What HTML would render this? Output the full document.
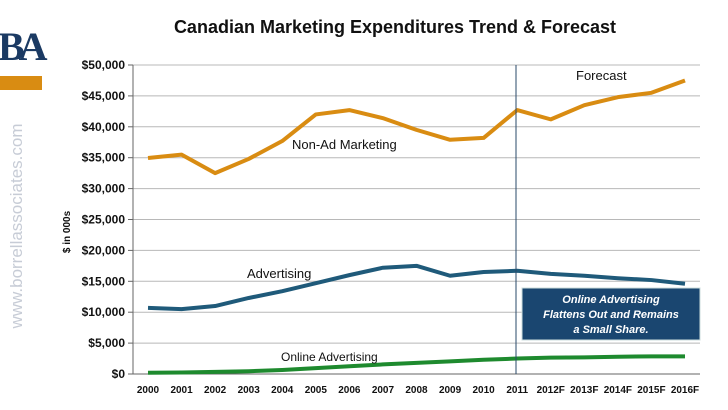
<!DOCTYPE html>
<html><head><meta charset="utf-8"><style>
body{margin:0;width:728px;height:410px;background:#fff;overflow:hidden;font-family:"Liberation Sans",sans-serif}
svg{position:absolute;left:0;top:0}
</style></head><body>
<svg width="728" height="410">
<text x="395" y="33" text-anchor="middle" font-size="18" font-weight="bold" fill="#111">Canadian Marketing Expenditures Trend &amp; Forecast</text>
<g>
<text x="-2" y="60" font-size="40" font-weight="bold" fill="#1b3a63" font-family="Liberation Serif,serif" letter-spacing="-6">BA</text>
<rect x="0" y="76" width="42" height="14" fill="#d98c12"/>
</g>
<text transform="translate(22,226) rotate(-90)" text-anchor="middle" font-size="17" fill="#c7ccd6">www.borrellassociates.com</text>
<text transform="translate(70,232) rotate(-90)" text-anchor="middle" font-size="10" font-weight="bold" fill="#111">$ in 000s</text>
<g id="grid"></g><g id="axes"></g><g id="series"></g>
<line x1="516" y1="65" x2="516" y2="374" stroke="#2a4a6a" stroke-width="1"/>
<text x="576" y="80" font-size="13" fill="#111">Forecast</text>
<text x="292" y="149" font-size="13" fill="#111">Non-Ad Marketing</text>
<text x="247" y="278" font-size="13" fill="#111">Advertising</text>
<text x="281" y="361" font-size="12" fill="#111">Online Advertising</text>
<g>
<rect x="522" y="288" width="178" height="52" fill="#1a4670" stroke="#cdd" stroke-width="1"/>
<text x="611" y="303" text-anchor="middle" font-size="11" font-style="italic" font-weight="bold" fill="#fff">Online Advertising</text>
<text x="611" y="318" text-anchor="middle" font-size="11" font-style="italic" font-weight="bold" fill="#fff">Flattens Out and Remains</text>
<text x="611" y="333" text-anchor="middle" font-size="11" font-style="italic" font-weight="bold" fill="#fff">a Small Share.</text>
</g>
</svg>
<script>
const categories=["2000","2001","2002","2003","2004","2005","2006","2007","2008","2009","2010","2011","2012F","2013F","2014F","2015F","2016F"];
const nonAd=[34950,35500,32500,34800,37700,42000,42700,41400,39500,37900,38200,42700,41200,43500,44800,45500,47500];
const advertising=[10700,10500,11000,12300,13400,14700,16000,17200,17500,15900,16500,16700,16200,15900,15500,15200,14600];
const online=[200,250,350,450,650,950,1250,1550,1800,2050,2300,2500,2650,2700,2800,2850,2850];
const yTicks=[0,5000,10000,15000,20000,25000,30000,35000,40000,45000,50000];
const NS="http://www.w3.org/2000/svg";
const x0=133,x1=700,y0=374,y1=65;
const xs=i=>148+i*(685-148)/16;
const ys=v=>y0-(v/50000)*(y0-y1);
function mk(t,a,p){const e=document.createElementNS(NS,t);for(const k in a)e.setAttribute(k,a[k]);p.appendChild(e);return e;}
const grid=document.getElementById('grid'),axes=document.getElementById('axes'),ser=document.getElementById('series');
yTicks.forEach(v=>{
 const g=mk('line',{x1:x0,x2:x1,y1:ys(v),y2:ys(v),stroke:v?'#b8b8b8':'#666','stroke-width':1},grid);
 
 
 mk('line',{x1:x0-5,x2:x0,y1:ys(v),y2:ys(v),stroke:'#666'},axes);
 const t=mk('text',{x:x0-8,y:ys(v)+4,'text-anchor':'end','font-size':12,'font-weight':'bold',fill:'#111'},axes);
 t.textContent='$'+v.toLocaleString('en-US');
 
 
});
mk('line',{x1:x0,x2:x0,y1:y1,y2:y0,stroke:'#666'},axes);
categories.forEach((c,i)=>{
 const t=mk('text',{x:xs(i),y:393,'text-anchor':'middle','font-size':10,'font-weight':'bold',fill:'#111'},axes);
 t.textContent=c;
 
 
});
[[nonAd,'#d98c12','non-ad-marketing-line'],[advertising,'#1f5a7a','advertising-line'],[online,'#1e8a2e','online-advertising-line']].forEach(([d,c,n])=>{
 const p=mk('polyline',{points:d.map((v,i)=>xs(i)+','+ys(v)).join(' '),fill:'none',stroke:c,'stroke-width':4,'stroke-linejoin':'round'},ser);
 
 
});
</script>
</body></html>
